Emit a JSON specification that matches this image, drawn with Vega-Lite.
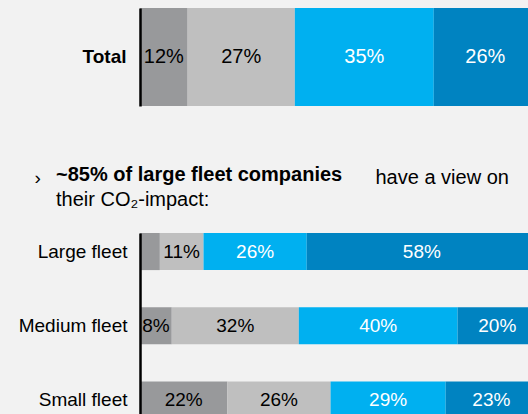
{
  "$schema": "https://vega.github.io/schema/vega-lite/v6.json",
  "background": "#f2f2f2",
  "autosize": "none",
  "padding": {"left": 140, "top": 8, "right": 0, "bottom": 0},
  "width": 388,
  "height": 406,
  "config": {
    "view": {"stroke": null},
    "font": "Liberation Sans",
    "axis": {"labelFont": "Liberation Sans", "titleFont": "Liberation Sans"},
    "title": {"font": "Liberation Sans", "subtitleFont": "Liberation Sans"}
  },
  "title": {
    "text": "~85% of large fleet companies",
    "subtitle": "their CO₂-impact:",
    "anchor": "start", "frame": "group", "orient": "top",
    "dx": -84, "dy": 202, "offset": 0,
    "fontSize": 20, "fontWeight": "bold", "color": "#000000",
    "subtitleFontSize": 20, "subtitleColor": "#000000", "subtitleFontWeight": "normal",
    "subtitlePadding": 5
  },
  "datasets": {
    "total": [
      {"group": "Total", "segment": 1, "pct": 12, "label": "12%"},
      {"group": "Total", "segment": 2, "pct": 27, "label": "27%"},
      {"group": "Total", "segment": 3, "pct": 35, "label": "35%"},
      {"group": "Total", "segment": 4, "pct": 26, "label": "26%"}
    ],
    "fleet": [
      {"group": "Large fleet", "segment": 1, "pct": 5, "label": ""},
      {"group": "Large fleet", "segment": 2, "pct": 11, "label": "11%"},
      {"group": "Large fleet", "segment": 3, "pct": 26, "label": "26%"},
      {"group": "Large fleet", "segment": 4, "pct": 58, "label": "58%"},
      {"group": "Medium fleet", "segment": 1, "pct": 8, "label": "8%"},
      {"group": "Medium fleet", "segment": 2, "pct": 32, "label": "32%"},
      {"group": "Medium fleet", "segment": 3, "pct": 40, "label": "40%"},
      {"group": "Medium fleet", "segment": 4, "pct": 20, "label": "20%"},
      {"group": "Small fleet", "segment": 1, "pct": 22, "label": "22%"},
      {"group": "Small fleet", "segment": 2, "pct": 26, "label": "26%"},
      {"group": "Small fleet", "segment": 3, "pct": 29, "label": "29%"},
      {"group": "Small fleet", "segment": 4, "pct": 23, "label": "23%"}
    ]
  },
  "layer": [
    {
      "data": {"name": "total"},
      "transform": [
        {"stack": "pct", "groupby": ["group"], "sort": [{"field": "segment"}], "as": ["x0", "x1"]}
      ],
      "encoding": {
        "y": {
          "field": "group", "type": "nominal",
          "scale": {"paddingInner": 0, "paddingOuter": 0, "range": [0, 98]},
          "axis": {
            "orient": "left", "zindex": 1, "domain": true, "domainColor": "#000000", "domainWidth": 2.5,
            "ticks": false, "labelFontSize": 19, "labelFontWeight": "bold", "labelColor": "#000000",
            "labelPadding": 14,
            "title": "›", "titleAngle": 0, "titleX": -106, "titleY": 175,
            "titleAlign": "left", "titleBaseline": "alphabetic",
            "titleFontSize": 19, "titleFontWeight": "normal", "titleColor": "#000000"
          }
        }
      },
      "layer": [
        {
          "mark": {"type": "bar"},
          "encoding": {
            "x": {
              "field": "x0", "type": "quantitative",
              "scale": {"domain": [0, 100], "range": [0, 397], "nice": false},
              "axis": {
                "domain": false, "ticks": false, "labels": false, "grid": false,
                "title": "have a view on", "titleX": 235, "titleY": -231,
                "titleAlign": "left", "titleBaseline": "alphabetic",
                "titleFontSize": 20, "titleFontWeight": "normal", "titleColor": "#000000"
              }
            },
            "x2": {"field": "x1"},
            "color": {
              "field": "segment", "type": "nominal",
              "scale": {"domain": [1, 2, 3, 4], "range": ["#98999b", "#bfbfbf", "#00b0f0", "#0083c1"]},
              "legend": null
            }
          }
        },
        {
          "transform": [
            {"fold": ["x0", "x1"], "as": ["edge", "pos"]},
            {"aggregate": [{"op": "mean", "field": "pos", "as": "mid"}], "groupby": ["group", "segment", "label"]}
          ],
          "mark": {"type": "text", "fontSize": 20, "font": "Liberation Sans", "align": "center"},
          "encoding": {
            "x": {"field": "mid", "type": "quantitative"},
            "text": {"field": "label"},
            "color": {"condition": {"test": "datum.segment >= 3", "value": "#ffffff"}, "value": "#000000"}
          }
        }
      ]
    },
    {
      "data": {"name": "fleet"},
      "transform": [
        {"stack": "pct", "groupby": ["group"], "sort": [{"field": "segment"}], "as": ["x0", "x1"]}
      ],
      "encoding": {
        "y": {
          "field": "group", "type": "nominal",
          "sort": ["Large fleet", "Medium fleet", "Small fleet"],
          "scale": {"paddingInner": 0.5, "paddingOuter": 0, "range": [225, 410.5]},
          "axis": {
            "orient": "left", "zindex": 1, "domain": true, "domainColor": "#000000", "domainWidth": 2.5,
            "ticks": false, "labelFontSize": 19, "labelColor": "#000000",
            "labelPadding": 13, "title": null
          }
        }
      },
      "layer": [
        {
          "mark": {"type": "bar"},
          "encoding": {
            "x": {"field": "x0", "type": "quantitative"},
            "x2": {"field": "x1"},
            "color": {
              "field": "segment", "type": "nominal",
              "scale": {"domain": [1, 2, 3, 4], "range": ["#98999b", "#bfbfbf", "#00b0f0", "#0083c1"]},
              "legend": null
            }
          }
        },
        {
          "transform": [
            {"fold": ["x0", "x1"], "as": ["edge", "pos"]},
            {"aggregate": [{"op": "mean", "field": "pos", "as": "mid"}], "groupby": ["group", "segment", "label"]}
          ],
          "mark": {"type": "text", "fontSize": 19, "font": "Liberation Sans", "align": "center"},
          "encoding": {
            "x": {"field": "mid", "type": "quantitative"},
            "text": {"field": "label"},
            "color": {"condition": {"test": "datum.segment >= 3", "value": "#ffffff"}, "value": "#000000"}
          }
        }
      ]
    }
  ],
  "resolve": {"scale": {"y": "independent"}, "axis": {"y": "independent"}}
}
